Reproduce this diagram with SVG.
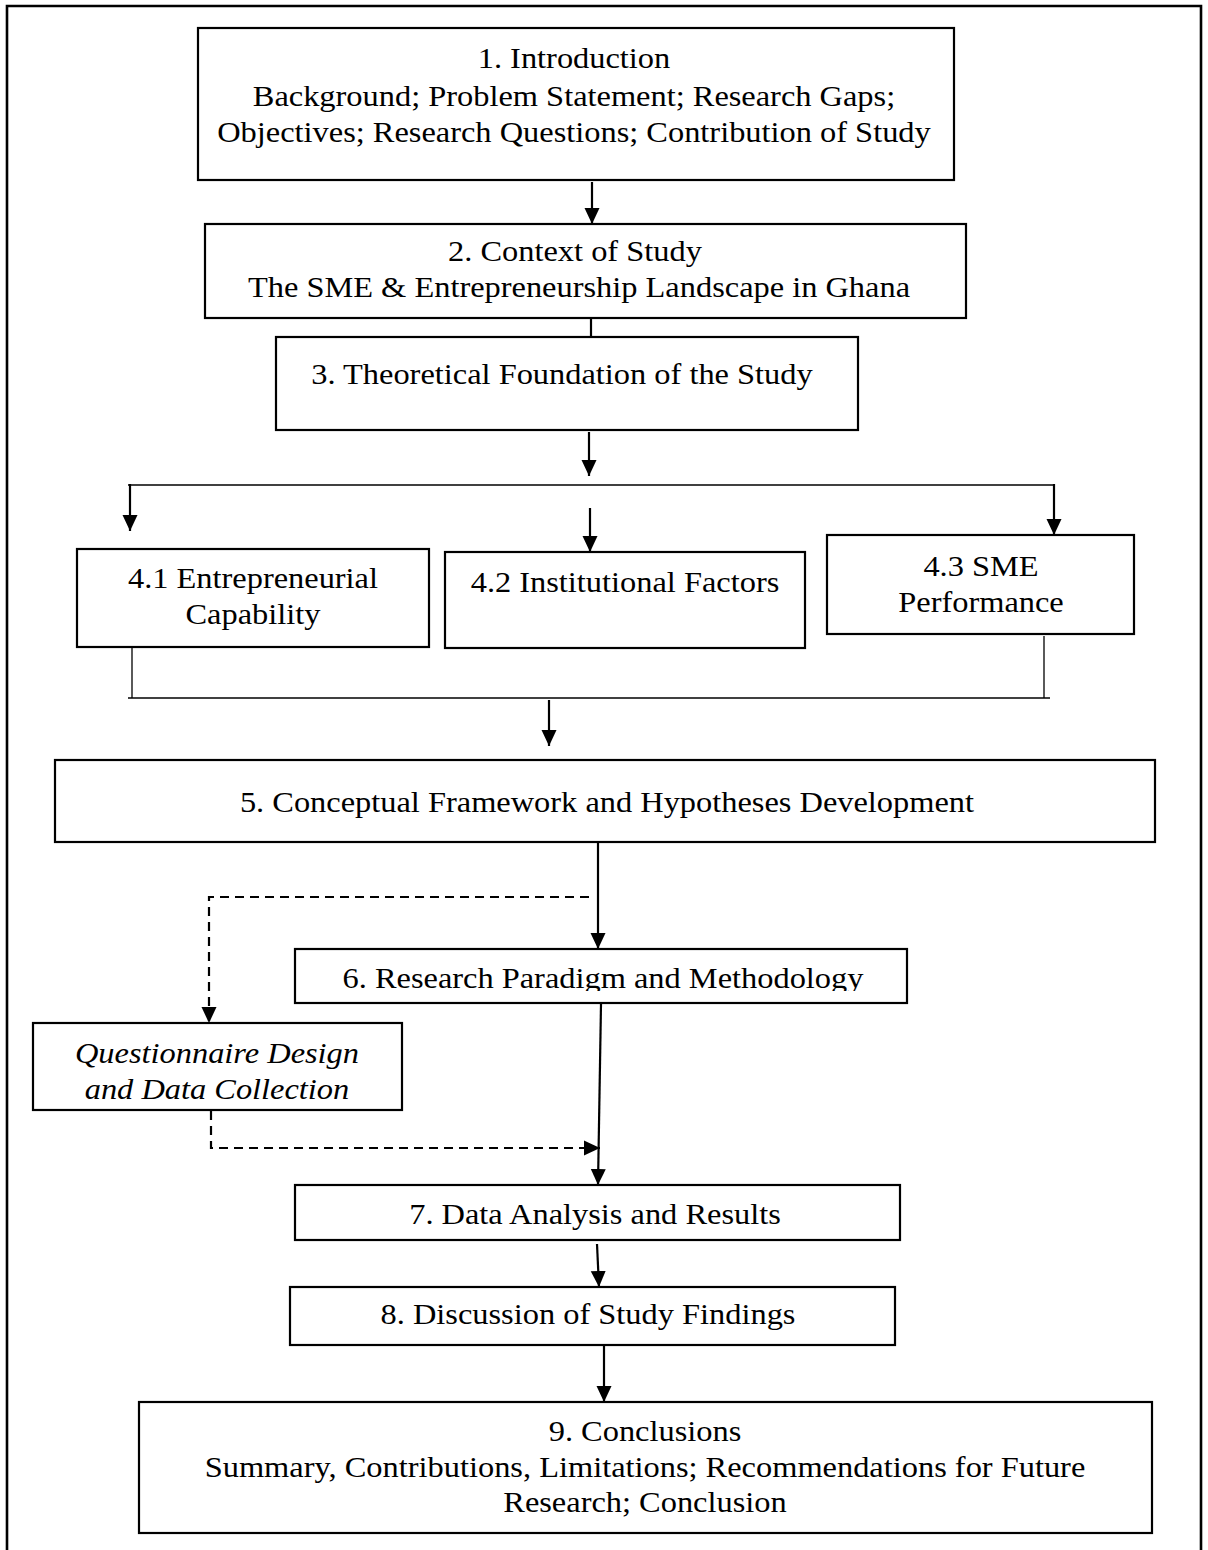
<svg xmlns="http://www.w3.org/2000/svg" width="1208" height="1550" viewBox="0 0 1208 1550">
  <style>
    .box { fill: #fff; stroke: #000; stroke-width: 2.2; }
    .lbl { font-family: "Liberation Serif", "Times New Roman", serif; font-size: 30px; fill: #000; text-anchor: middle;
           transform-box: fill-box; transform-origin: center; transform: scaleX(1.08); }
    .it { font-style: italic; }
    .ln { fill: none; stroke: #000; stroke-width: 2.2; }
    .thin { fill: none; stroke: #000; stroke-width: 1.3; }
    .dash { fill: none; stroke: #000; stroke-width: 2.2; stroke-dasharray: 9 6; }
  </style>
  <defs>
    <marker id="head" viewBox="0 0 16 16" refX="16" refY="8" markerWidth="16" markerHeight="16" markerUnits="userSpaceOnUse" orient="auto">
      <path d="M0,0.5 L16,8 L0,15.5 Z" fill="#000"/>
    </marker>
    <clipPath id="clip6">
      <rect x="295" y="949" width="612" height="42"/>
    </clipPath>
  </defs>

  <rect width="1208" height="1550" fill="#fff"/>

  <!-- outer frame, open at the bottom -->
  <path d="M7,1560 L7,6 L1201,6 L1201,1560" fill="none" stroke="#000" stroke-width="2.6"/>

  <g id="connectors">
    <line class="ln" x1="592" y1="182" x2="592" y2="224" marker-end="url(#head)"/>
    <line class="ln" x1="591" y1="318" x2="591" y2="337"/>
    <line class="ln" x1="589" y1="432" x2="589" y2="476" marker-end="url(#head)"/>
    <!-- fan-out to the three sub-themes -->
    <polyline class="thin" points="128,485 1054,485"/>
    <line class="ln" x1="130" y1="484" x2="130" y2="531" marker-end="url(#head)"/>
    <line class="ln" x1="1054" y1="484" x2="1054" y2="535" marker-end="url(#head)"/>
    <line class="ln" x1="590" y1="508" x2="590" y2="552" marker-end="url(#head)"/>
    <!-- fan-in towards the framework -->
    <polyline class="thin" points="132,637 132,698"/>
    <polyline class="thin" points="128,698 1050,698"/>
    <polyline class="thin" points="1044,636 1044,698"/>
    <line class="ln" x1="549" y1="700" x2="549" y2="746" marker-end="url(#head)"/>
    <!-- framework to methodology -->
    <line class="ln" x1="598" y1="842" x2="598" y2="949" marker-end="url(#head)"/>
    <polyline class="dash" points="589,897 209,897 209,1023" marker-end="url(#head)"/>
    <!-- methodology to analysis -->
    <line class="ln" x1="601" y1="1004" x2="598" y2="1185" marker-end="url(#head)"/>
    <polyline class="dash" points="211,1111 211,1148 600,1148" marker-end="url(#head)"/>
    <line class="ln" x1="597" y1="1244" x2="599" y2="1287" marker-end="url(#head)"/>
    <line class="ln" x1="604" y1="1346" x2="604" y2="1402" marker-end="url(#head)"/>
  </g>

  <g id="n1">
    <rect class="box" x="198" y="28" width="756" height="152"/>
    <text class="lbl" x="574" y="68">1. Introduction</text>
    <text class="lbl" x="574" y="106">Background; Problem Statement; Research Gaps;</text>
    <text class="lbl" x="574" y="142">Objectives; Research Questions; Contribution of Study</text>
  </g>

  <g id="n2">
    <rect class="box" x="205" y="224" width="761" height="94"/>
    <text class="lbl" x="575" y="261">2. Context of Study</text>
    <text class="lbl" x="579" y="297">The SME &amp; Entrepreneurship Landscape in Ghana</text>
  </g>

  <g id="n3">
    <rect class="box" x="276" y="337" width="582" height="93"/>
    <text class="lbl" x="562" y="384">3. Theoretical Foundation of the Study</text>
  </g>

  <g id="n41">
    <rect class="box" x="77" y="549" width="352" height="98"/>
    <text class="lbl" x="253" y="588">4.1 Entrepreneurial</text>
    <text class="lbl" x="253" y="624">Capability</text>
  </g>

  <g id="n42">
    <rect class="box" x="445" y="552" width="360" height="96"/>
    <text class="lbl" x="625" y="592">4.2 Institutional Factors</text>
  </g>

  <g id="n43">
    <rect class="box" x="827" y="535" width="307" height="99"/>
    <text class="lbl" x="981" y="576">4.3 SME</text>
    <text class="lbl" x="981" y="612">Performance</text>
  </g>

  <g id="n5">
    <rect class="box" x="55" y="760" width="1100" height="82"/>
    <text class="lbl" x="607" y="812">5. Conceptual Framework and Hypotheses Development</text>
  </g>

  <g id="n6">
    <rect class="box" x="295" y="949" width="612" height="54"/>
    <g clip-path="url(#clip6)">
      <text class="lbl" x="603" y="988">6. Research Paradigm and Methodology</text>
    </g>
  </g>

  <g id="nq">
    <rect class="box" x="33" y="1023" width="369" height="87"/>
    <text class="lbl it" x="217" y="1063">Questionnaire Design</text>
    <text class="lbl it" x="217" y="1099">and Data Collection</text>
  </g>

  <g id="n7">
    <rect class="box" x="295" y="1185" width="605" height="55"/>
    <text class="lbl" x="595" y="1224">7. Data Analysis and Results</text>
  </g>

  <g id="n8">
    <rect class="box" x="290" y="1287" width="605" height="58"/>
    <text class="lbl" x="588" y="1324">8. Discussion of Study Findings</text>
  </g>

  <g id="n9">
    <rect class="box" x="139" y="1402" width="1013" height="131"/>
    <text class="lbl" x="645" y="1441">9. Conclusions</text>
    <text class="lbl" x="645" y="1477">Summary, Contributions, Limitations; Recommendations for Future</text>
    <text class="lbl" x="645" y="1512">Research; Conclusion</text>
  </g>
</svg>
